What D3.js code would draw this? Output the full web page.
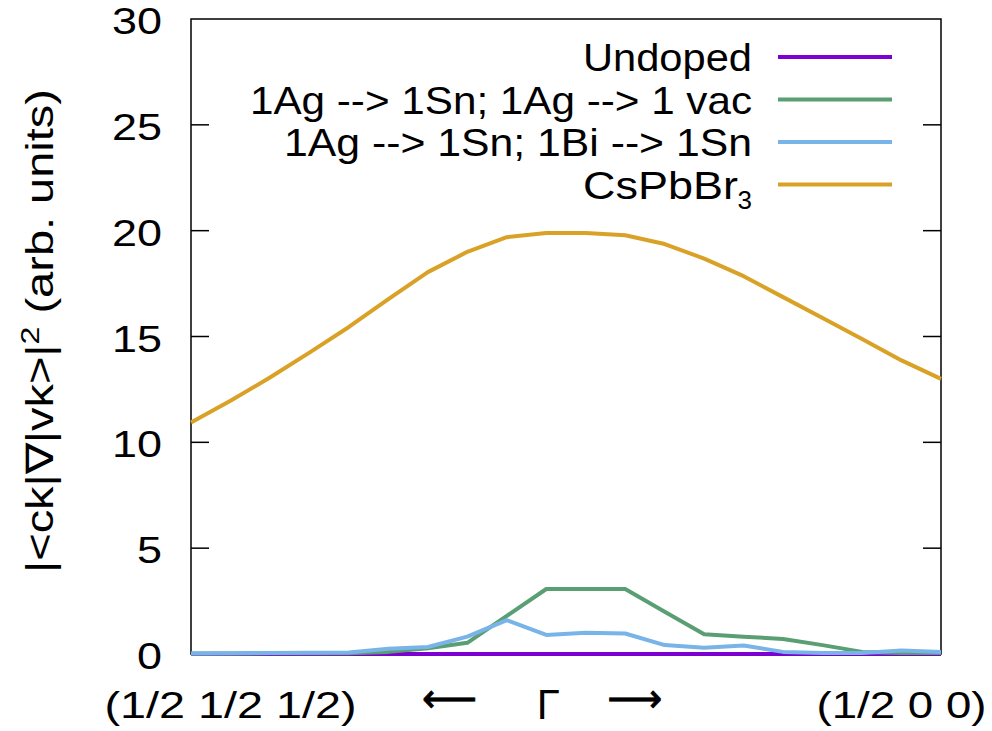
<!DOCTYPE html>
<html>
<head>
<meta charset="utf-8">
<script src="https://cdn.jsdelivr.net/npm/d3@7"></script>
<style>
  body { margin: 0; background: #fff; }
  text { font-family: "Liberation Sans", Arial, sans-serif; fill: #000; }
  text.arrow { font-family: "DejaVu Sans", sans-serif; stroke: #000; stroke-width: 0.8px; }
</style>
</head>
<body>
<div id="chart"></div>
<script>
// k-path samples, (1/2 1/2 1/2) -> Gamma -> (1/2 0 0)
var kIndex = d3.range(20);

var undoped = [0, 0, 0, 0, 0, 0, 0, 0, 0, 0, 0, 0, 0, 0, 0, 0, 0, 0, 0, 0];
var agVac   = [0.02, 0.02, 0.03, 0.03, 0.04, 0.1, 0.27, 0.53, 1.8, 3.07, 3.07, 3.07, 2.0, 0.93, 0.82, 0.71, 0.42, 0.1, 0.05, 0.05];
var agBi    = [0.02, 0.03, 0.05, 0.06, 0.07, 0.25, 0.33, 0.82, 1.6, 0.9, 1.0, 0.97, 0.42, 0.3, 0.4, 0.1, 0.05, 0.05, 0.17, 0.1];
var cspbbr3 = [10.94, 11.96, 13.06, 14.24, 15.45, 16.77, 18.04, 19.0, 19.69, 19.89, 19.89, 19.78, 19.37, 18.68, 17.85, 16.86, 15.87, 14.88, 13.87, 13.0];

var seriesNames  = ["Undoped", "1Ag --> 1Sn; 1Ag --> 1 vac", "1Ag --> 1Sn; 1Bi --> 1Sn", "CsPbBr"];
var seriesColors = ["#7c00d2", "#5a9e73", "#78b4e8", "#d9a227"];
var seriesValues = [undoped, agVac, agBi, cspbbr3];

var yTicks = [0, 5, 10, 15, 20, 25, 30];
// bottom labels placed at k-index positions
var xLabels = [
  {t: "(1/2 1/2 1/2)", k: 1, kind: "label"},
  {t: "\u27f5", k: 6.55, kind: "arrow"},
  {t: "\u0393", k: 9.05, kind: "gamma"},
  {t: "\u27f6", k: 11.25, kind: "arrow"},
  {t: "(1/2 0 0)", k: 18, kind: "label"}
];

var width = 992, height = 731;
var margin = {top: 19, right: 51, bottom: 77, left: 191};
var w = width - margin.left - margin.right,
    h = height - margin.top - margin.bottom;

var svg = d3.select("#chart").append("svg")
    .attr("width", width)
    .attr("height", height);

var g = svg.append("g")
    .attr("transform", "translate(" + margin.left + "," + margin.top + ")");

var xScale = d3.scaleLinear().domain([0, kIndex.length - 1]).range([0, w]);
var yScale = d3.scaleLinear().domain([0, 30]).range([h, 0]);

// stretch a text node to a given width
function fit(sel, len){
    sel.attr("textLength", len).attr("lengthAdjust", "spacingAndGlyphs");
}

// frame
g.append("rect")
    .attr("width", w).attr("height", h)
    .attr("fill", "none")
    .attr("stroke", "#000")
    .attr("stroke-width", 1.5);

// inward ticks on both sides
var tickLen = 18;
g.append("g").selectAll("line.l").data(yTicks.slice(1, -1)).enter().append("line")
    .attr("x1", 0).attr("x2", tickLen)
    .attr("y1", function(d){ return yScale(d); })
    .attr("y2", function(d){ return yScale(d); })
    .attr("stroke", "#000").attr("stroke-width", 1.5);
g.append("g").selectAll("line.r").data(yTicks.slice(1, -1)).enter().append("line")
    .attr("x1", w - tickLen).attr("x2", w)
    .attr("y1", function(d){ return yScale(d); })
    .attr("y2", function(d){ return yScale(d); })
    .attr("stroke", "#000").attr("stroke-width", 1.5);

// tick labels
g.append("g").selectAll("text").data(yTicks).enter().append("text")
    .attr("x", -29)
    .attr("y", function(d){ return yScale(d) + 15; })
    .attr("text-anchor", "end")
    .style("font-size", "37px")
    .text(function(d){ return d; })
    .each(function(d){ fit(d3.select(this), String(d).length * 25); });

// bottom labels
var sizes = {label: "36px", arrow: "40px", gamma: "42px"};
var dys = {label: 64, arrow: 58, gamma: 65};
g.append("g").selectAll("text").data(xLabels).enter().append("text")
    .attr("class", function(d){ return d.kind; })
    .attr("x", function(d){ return xScale(d.k); })
    .attr("y", function(d){ return h + dys[d.kind]; })
    .attr("text-anchor", "middle")
    .style("font-size", function(d){ return sizes[d.kind]; })
    .text(function(d){ return d.t; })
    .each(function(d){
        if (d.kind === "label") fit(d3.select(this), d.t.length > 10 ? 252 : 170);
        else if (d.kind === "arrow") fit(d3.select(this), 55);
    });

// y axis label
var ylab = svg.append("text")
    .attr("transform", "translate(53," + 331 + ") rotate(-90)")
    .attr("text-anchor", "middle")
    .style("font-size", "38px");
ylab.append("tspan").text("|<ck|\u2207|vk>|");
ylab.append("tspan").attr("dy", -14).style("font-size", "26px").text("2");
ylab.append("tspan").attr("dy", 14).text(" (arb. units)");
fit(ylab, 484);

// lines
var line = d3.line()
    .x(function(d, i){ return xScale(i); })
    .y(function(d){ return yScale(d); });

g.append("g").selectAll("path").data(seriesValues).enter().append("path")
    .attr("d", line)
    .attr("fill", "none")
    .attr("stroke", function(d, i){ return seriesColors[i]; })
    .attr("stroke-width", 4)
    .attr("stroke-linejoin", "round");

// legend
var legendWidths = [169, 502, 468, 155];
var legend = svg.append("g").attr("transform", "translate(752,57)");
var rows = legend.selectAll("g").data(seriesNames).enter().append("g")
    .attr("transform", function(d, i){ return "translate(0," + (i * 42.5) + ")"; });
rows.append("line")
    .attr("x1", 26).attr("x2", 140)
    .attr("y1", 0).attr("y2", 0)
    .attr("stroke", function(d, i){ return seriesColors[i]; })
    .attr("stroke-width", 4);
rows.append("text")
    .attr("x", function(d, i){ return i === 3 ? -14 : 0; })
    .attr("y", 14)
    .attr("text-anchor", "end")
    .style("font-size", "39px")
    .text(function(d){ return d; })
    .each(function(d, i){ fit(d3.select(this), legendWidths[i]); });
rows.filter(function(d, i){ return i === 3; }).append("text")
    .attr("x", 0).attr("y", 24)
    .attr("text-anchor", "end")
    .style("font-size", "26px")
    .text("3");
</script>
</body>
</html>
